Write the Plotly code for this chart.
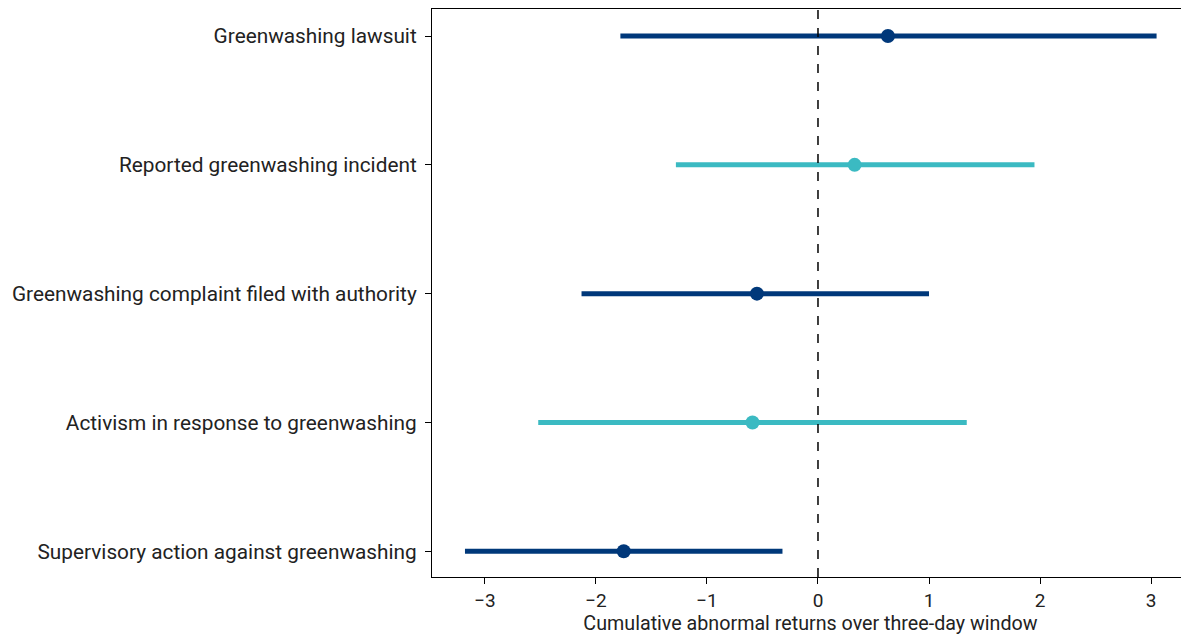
import plotly.graph_objects as go

categories = [
    "Supervisory action against greenwashing",
    "Activism in response to greenwashing",
    "Greenwashing complaint filed with authority",
    "Reported greenwashing incident",
    "Greenwashing lawsuit",
]
estimates = [-1.75, -0.59, -0.55, 0.33, 0.63]
lower = [-3.18, -2.52, -2.13, -1.28, -1.78]
upper = [-0.32, 1.34, 1.00, 1.95, 3.05]
colors = ["#00387A", "#3BBAC2", "#00387A", "#3BBAC2", "#00387A"]
x_ticks = [-3, -2, -1, 0, 1, 2, 3]

fig = go.Figure()
for i, cat in enumerate(categories):
    fig.add_trace(go.Scatter(
        x=[estimates[i]], y=[i],
        mode="markers",
        marker=dict(color=colors[i], size=14),
        error_x=dict(type="data", symmetric=False,
                     array=[upper[i] - estimates[i]],
                     arrayminus=[estimates[i] - lower[i]],
                     color=colors[i], thickness=5, width=0),
        showlegend=False,
        hoverinfo="skip",
    ))

fig.add_shape(type="line", x0=0, x1=0, y0=0, y1=1, xref="x", yref="paper",
              line=dict(color="black", width=1.5, dash="dash"), layer="above")

font_family = "Roboto, sans-serif"
fig.update_layout(
    width=1181, height=628,
    margin=dict(l=424, r=0, t=1, b=59),
    plot_bgcolor="white", paper_bgcolor="white",
    font=dict(family=font_family, size=20, color="#222"),
    xaxis=dict(
        range=[-3.477, 3.342],
        tickvals=x_ticks,
        ticks="outside", ticklen=6, tickcolor="black",
        showgrid=False, zeroline=False,
        showline=True, linecolor="black", linewidth=1.2, mirror=True,
        title=dict(text="Cumulative abnormal returns over three-day window",
                   font=dict(size=19.7), standoff=5),
        tickfont=dict(size=19),
    ),
    yaxis=dict(
        range=[-0.2, 4.21],
        tickvals=list(range(len(categories))),
        ticktext=categories,
        ticks="outside", ticklen=6, tickcolor="black",
        ticklabelstandoff=4,
        showgrid=False, zeroline=False,
        showline=True, linecolor="black", linewidth=1.2, mirror=False,
        tickfont=dict(size=20.8),
    ),
)

fig.write_html("out.html")
